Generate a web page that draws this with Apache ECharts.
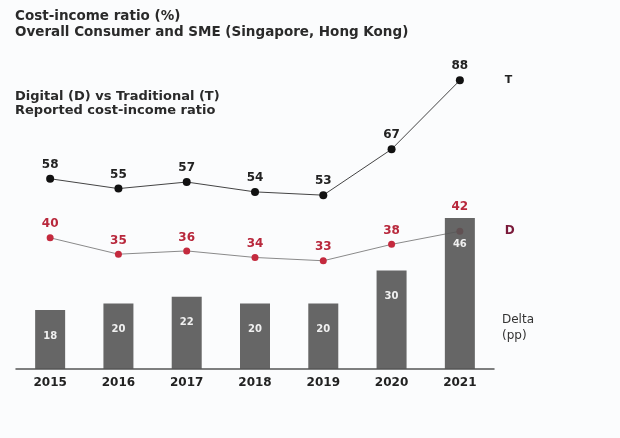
<!DOCTYPE html>
<html>
<head>
<meta charset="utf-8">
<script src="https://cdn.jsdelivr.net/npm/echarts@6/dist/echarts.min.js"></script>
<style>
html,body{margin:0;padding:0;background:#fbfcfd;}
#chart{width:620px;height:438px;}
</style>
</head>
<body>
<div id="chart"></div>
<script>
const years = ['2015','2016','2017','2018','2019','2020','2021'];
const traditional = [58, 55, 57, 54, 53, 67, 88];
const digital = [40, 35, 36, 34, 33, 38, 42];
const delta = [18, 20, 22, 20, 20, 30, 46];

const FONT = '"DejaVu Sans", Verdana, sans-serif';
const chart = echarts.init(document.getElementById('chart'));

const digitalData = digital.map((v, i) => {
  if (i === digital.length - 1) {
    return { value: v, label: { distance: 15 } };
  }
  return v;
});

chart.setOption({
  backgroundColor: '#fbfcfd',
  animation: false,
  title: [
    {
      text: 'Cost-income ratio (%)\nOverall Consumer and SME (Singapore, Hong Kong)',
      left: 10, top: 3,
      textStyle: { fontFamily: FONT, fontSize: 13.5, fontWeight: 'bold', color: '#2a2a2a', lineHeight: 16 }
    },
    {
      text: 'Digital (D) vs Traditional (T)\nReported cost-income ratio',
      left: 10, top: 85,
      textStyle: { fontFamily: FONT, fontSize: 13, fontWeight: 'bold', color: '#2a2a2a', lineHeight: 14 }
    }
  ],
  grid: { left: 16, width: 478, top: 41, bottom: 69, containLabel: false },
  xAxis: {
    type: 'category',
    data: years,
    boundaryGap: true,
    axisLine: { lineStyle: { color: '#555', width: 1.5 } },
    axisTick: { show: false },
    axisLabel: { fontFamily: FONT, fontSize: 12, fontWeight: 'bold', color: '#222', margin: 8 }
  },
  yAxis: {
    type: 'value', min: 0, max: 100, show: false,
    splitLine: { show: false }
  },
  series: [
    {
      name: 'T',
      type: 'line',
      data: traditional,
      symbol: 'circle', symbolSize: 8,
      itemStyle: { color: '#111' },
      lineStyle: { color: '#444', width: 1 },
      z: 2,
      label: { show: true, position: 'top', distance: 4, color: '#222', fontFamily: FONT, fontSize: 12, fontWeight: 'bold' },
      endLabel: { show: true, formatter: 'T', distance: 45, color: '#222', fontFamily: FONT, fontSize: 11, fontWeight: 'bold' }
    },
    {
      name: 'D',
      type: 'line',
      data: digitalData,
      symbol: 'circle', symbolSize: 7,
      itemStyle: { color: '#c42a3e' },
      lineStyle: { color: '#8a8a8a', width: 1 },
      z: 2,
      label: { show: true, position: 'top', distance: 4, color: '#b8283c', fontFamily: FONT, fontSize: 12, fontWeight: 600 },
      endLabel: { show: true, formatter: 'D', distance: 45, color: '#7a1a3a', fontFamily: FONT, fontSize: 12, fontWeight: 'bold' }
    },
    {
      name: 'Delta',
      type: 'bar',
      data: delta,
      barWidth: 30,
      itemStyle: { color: '#555555', opacity: 0.9 },
      z: 3,
      label: {
        show: true, position: 'insideTop', distance: 21,
        color: '#fff', fontFamily: FONT, fontSize: 10, fontWeight: 'bold'
      }
    }
  ],
  graphic: [
    {
      type: 'text', left: 502, top: 312,
      style: { text: 'Delta\n(pp)', fontFamily: FONT, fontSize: 12, lineHeight: 16, fill: '#333' }
    }
  ]
});
</script>
</body>
</html>
